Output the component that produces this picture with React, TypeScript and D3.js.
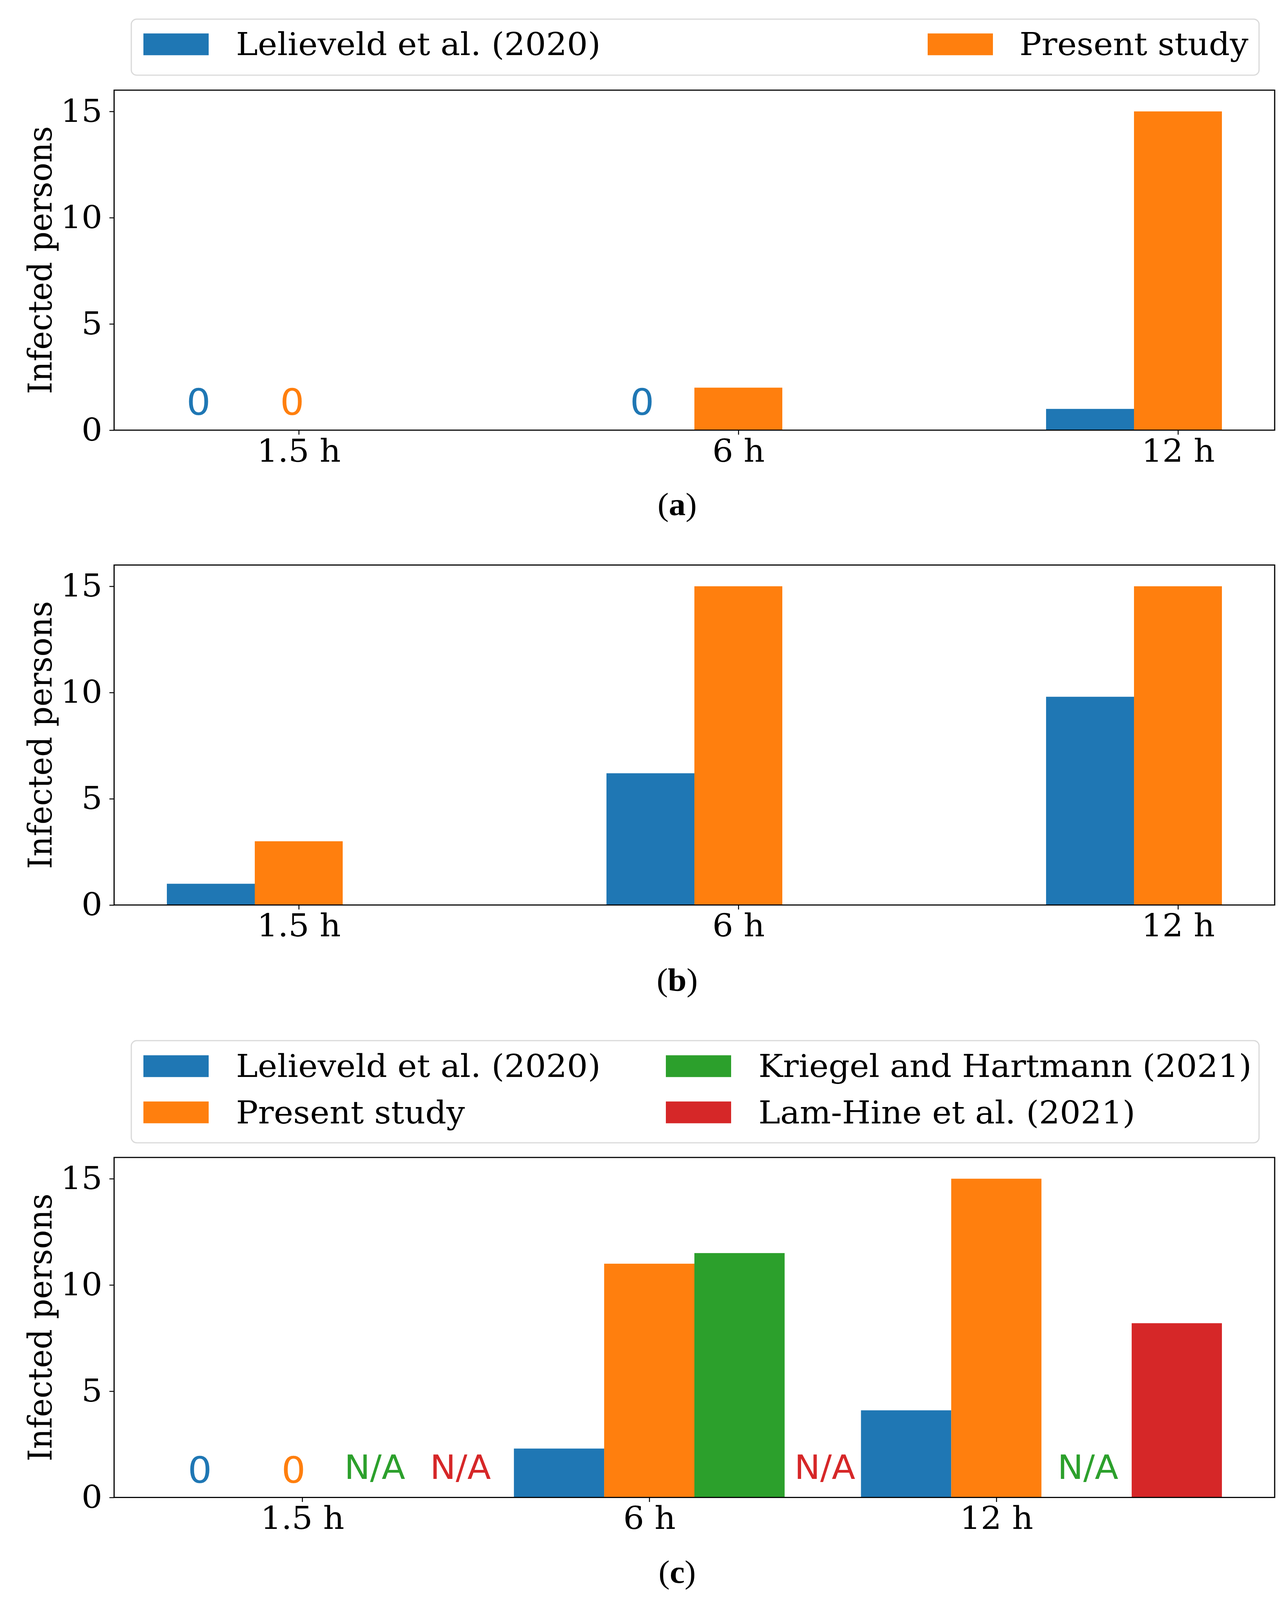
import React, { useRef, useEffect } from "react";
import * as d3 from "d3";

// categories and series
const hours = ["1.5 h", "6 h", "12 h"];
const seriesNames = [
  "Lelieveld et al. (2020)",
  "Present study",
  "Kriegel and Hartmann (2021)",
  "Lam-Hine et al. (2021)",
];
const seriesColors = ["#1f77b4", "#ff7f0e", "#2ca02c", "#d62728"];
const yTicks = [0, 5, 10, 15];

// panel (a)
const lelieveldA = [0, 0, 1];
const presentA = [0, 2, 15];

// panel (b)
const lelieveldB = [1, 6.2, 9.8];
const presentB = [3, 15, 15];

// panel (c)
const lelieveldC = [0, 2.3, 4.1];
const presentC = [0, 11, 15];
const kriegelC = [null, 11.5, null];
const lamHineC = [null, null, 8.2];

// text written where a bar is zero or missing: [x, y, series, text]
const notesA: [number, number, number, string][] = [
  [-0.228, 0.72, 0, "0"],
  [-0.015, 0.72, 1, "0"],
  [0.781, 0.72, 0, "0"],
];
const notesC: [number, number, number, string][] = [
  [-0.295, 0.68, 0, "0"],
  [-0.025, 0.68, 1, "0"],
  [0.209, 0.87, 2, "N/A"],
  [0.456, 0.87, 3, "N/A"],
  [1.506, 0.87, 3, "N/A"],
  [2.264, 0.87, 2, "N/A"],
];

interface PanelSpec {
  series: (number | null)[][];
  barWidth: number;
  top: number;
  notes: [number, number, number, string][];
  caption: string;
  captionY: number;
  legend?: { top: number; bottom: number; rows: number; cols: number[]; textCols: number[]; rowBase: number[] };
}

const panels: PanelSpec[] = [
  {
    series: [lelieveldA, presentA],
    barWidth: 0.2,
    top: 240,
    notes: notesA,
    caption: "a",
    captionY: 1372,
    legend: { top: 51, bottom: 200, rows: 1, cols: [367, 2374], textCols: [604, 2609], rowBase: [147] },
  },
  {
    series: [lelieveldB, presentB],
    barWidth: 0.2,
    top: 1504,
    notes: [],
    caption: "b",
    captionY: 2637,
  },
  {
    series: [lelieveldC, presentC, kriegelC, lamHineC],
    barWidth: 0.26,
    top: 3081,
    notes: notesC,
    caption: "c",
    captionY: 4213,
    legend: { top: 2770, bottom: 3042, rows: 2, cols: [367, 1704], textCols: [604, 1941], rowBase: [2867, 2990] },
  },
];

const W = 3291;
const H = 4259;
const axLeft = 292;
const axRight = 3262;
const axHeight = 905;
const serif = "'DejaVu Serif', serif";
const sans = "'DejaVu Sans', sans-serif";

function drawPanel(svg: d3.Selection<SVGSVGElement, unknown, null, undefined>, p: PanelSpec) {
  const n = p.series.length;
  const w = p.barWidth;
  const offsets = d3.range(n).map((i) => (i - 1) * w);
  const lo = d3.min(offsets)! - w / 2;
  const hi = hours.length - 1 + d3.max(offsets)! + w / 2;
  const pad = (hi - lo) * 0.05;

  const x = d3.scaleLinear().domain([lo - pad, hi + pad]).range([axLeft, axRight]);
  const y = d3.scaleLinear().domain([0, 16]).range([p.top + axHeight, p.top]);

  const g = svg.append("g");

  // bars
  p.series.forEach((vals, s) => {
    g.append("g")
      .selectAll("rect")
      .data(vals.map((v, i) => ({ v, i })).filter((d) => d.v != null && d.v > 0))
      .join("rect")
      .attr("x", (d) => x(d.i + offsets[s] - w / 2))
      .attr("width", x(w) - x(0))
      .attr("y", (d) => y(d.v as number))
      .attr("height", (d) => y(0) - y(d.v as number))
      .attr("fill", seriesColors[s]);
  });

  // zero / N/A labels
  g.append("g")
    .selectAll("text")
    .data(p.notes)
    .join("text")
    .attr("x", (d) => x(d[0]))
    .attr("y", (d) => y(d[1]))
    .attr("text-anchor", "middle")
    .attr("font-family", sans)
    .attr("font-size", (d) => (d[3] === "N/A" ? 88 : 97))
    .attr("fill", (d) => seriesColors[d[2]])
    .text((d) => d[3]);

  // frame
  g.append("rect")
    .attr("x", axLeft)
    .attr("y", p.top)
    .attr("width", axRight - axLeft)
    .attr("height", axHeight)
    .attr("fill", "none")
    .attr("stroke", "#000")
    .attr("stroke-width", 3);

  // y axis
  const yAxis = g.append("g")
    .attr("transform", `translate(${axLeft},0)`)
    .call(d3.axisLeft(y).tickValues(yTicks).tickSize(12).tickSizeOuter(0).tickPadding(18));
  yAxis.select(".domain").remove();
  yAxis.selectAll("line").attr("stroke-width", 2.5);
  yAxis.selectAll("text").attr("font-family", serif).attr("font-size", 84).attr("fill", "#000");

  // x axis
  const xAxis = g.append("g")
    .attr("transform", `translate(0,${p.top + axHeight})`)
    .call(
      d3.axisBottom(x)
        .tickValues(d3.range(hours.length))
        .tickFormat((i) => hours[i as number])
        .tickSize(12)
        .tickSizeOuter(0)
        .tickPadding(12)
    );
  xAxis.select(".domain").remove();
  xAxis.selectAll("line").attr("stroke-width", 2.5);
  xAxis.selectAll("text").attr("font-family", serif).attr("font-size", 84).attr("fill", "#000");

  // y label
  g.append("text")
    .attr("transform", `translate(132,${p.top + axHeight / 2}) rotate(-90)`)
    .attr("text-anchor", "middle")
    .attr("font-family", serif)
    .attr("font-size", 84)
    .text("Infected persons");

  // caption
  const cap = g.append("text")
    .attr("x", 1733)
    .attr("y", p.captionY)
    .attr("text-anchor", "middle")
    .attr("font-family", "'Liberation Serif', serif")
    .attr("font-size", 86);
  cap.append("tspan").text("(");
  cap.append("tspan").attr("font-weight", "bold").text(p.caption);
  cap.append("tspan").text(")");

  // legend
  if (p.legend) {
    const L = p.legend;
    g.append("rect")
      .attr("x", 336)
      .attr("y", L.top)
      .attr("width", 3222 - 336)
      .attr("height", L.bottom - L.top)
      .attr("rx", 14)
      .attr("fill", "#fff")
      .attr("stroke", "#d9d9d9")
      .attr("stroke-width", 3);

    const items = d3.range(n).map((s) => ({
      s,
      col: n > 2 ? Math.floor(s / L.rows) : s,
      row: n > 2 ? s % L.rows : 0,
    }));

    const item = g.append("g")
      .selectAll("g")
      .data(items)
      .join("g");

    item.append("rect")
      .attr("x", (d) => L.cols[d.col])
      .attr("y", (d) => L.rowBase[d.row] - 58)
      .attr("width", 167)
      .attr("height", 58)
      .attr("fill", (d) => seriesColors[d.s]);

    item.append("text")
      .attr("x", (d) => L.textCols[d.col])
      .attr("y", (d) => L.rowBase[d.row])
      .attr("font-family", serif)
      .attr("font-size", 84)
      .attr("fill", "#000")
      .text((d) => seriesNames[d.s]);
  }
}

const App: React.FC = () => {
  const ref = useRef<SVGSVGElement | null>(null);

  useEffect(() => {
    if (!ref.current) return;
    const svg = d3.select(ref.current);
    svg.selectAll("*").remove();
    svg.append("rect").attr("width", W).attr("height", H).attr("fill", "#fff");
    panels.forEach((p) => drawPanel(svg, p));
  }, []);

  // the drawing is laid out in a 3291x4259 space and stretched to the visible page
  return (
    <svg
      ref={ref}
      viewBox={`0 0 ${W} ${H}`}
      preserveAspectRatio="none"
      style={{ position: "fixed", left: 0, top: 0, width: "100vw", height: "100vh", display: "block", background: "#fff" }}
    />
  );
};

export default App;
